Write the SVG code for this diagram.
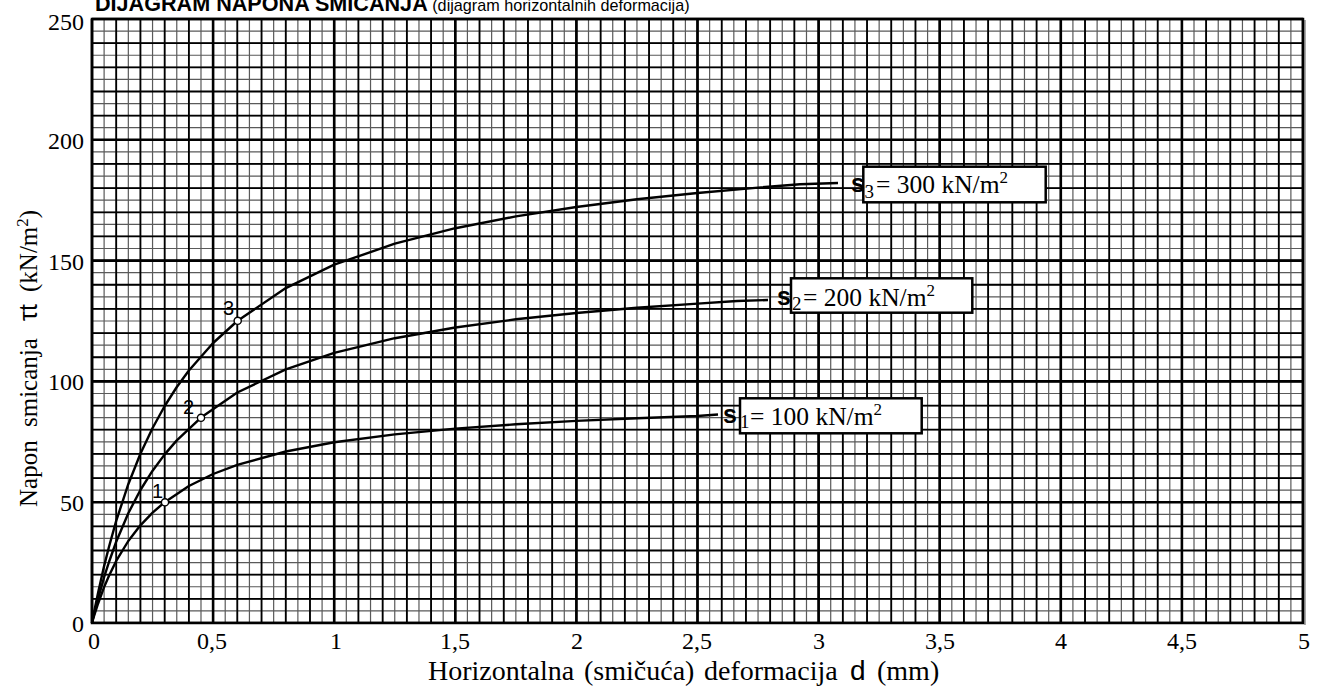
<svg xmlns="http://www.w3.org/2000/svg" width="1324" height="689" viewBox="0 0 1324 689">
<style>
.serif{font-family:"Liberation Serif","Times New Roman",serif;fill:#000}
.sans{font-family:"Liberation Sans",Arial,sans-serif;fill:#000}
.curve{fill:none;stroke:#000;stroke-width:2.4;stroke-linejoin:round;stroke-linecap:butt}
.pt{fill:#fff;stroke:#000;stroke-width:1.4}
.box{fill:#fff;stroke:#000;stroke-width:2.5}
</style>
<rect x="0" y="0" width="1324" height="689" fill="#fff"/>
<g id="grid">
<line x1="91.4" y1="321" x2="1303.6" y2="321" stroke="#5a5a5a" stroke-width="604" stroke-dasharray="1.2 10.91"/>
<line x1="697.5" y1="18.4" x2="697.5" y2="624" stroke="#5a5a5a" stroke-width="1211" stroke-dasharray="1.2 10.88"/>
<line x1="91.1" y1="321" x2="1303.6" y2="321" stroke="#000" stroke-width="604" stroke-dasharray="1.8 22.42"/>
<line x1="697.5" y1="18.1" x2="697.5" y2="624" stroke="#000" stroke-width="1211" stroke-dasharray="1.8 22.36"/>
<line x1="90.7" y1="321" x2="1303.6" y2="321" stroke="#000" stroke-width="604" stroke-dasharray="2.6 118.5"/>
<line x1="697.5" y1="17.7" x2="697.5" y2="624" stroke="#000" stroke-width="1211" stroke-dasharray="2.6 118.2"/>
<line x1="1305" y1="20" x2="1305" y2="625" stroke="#aaa" stroke-width="2"/>
<rect x="92" y="19" width="1211" height="604" fill="none" stroke="#000" stroke-width="2.5"/>
</g>
<g id="title">
<text x="95" y="11" font-family="Liberation Sans, Arial, sans-serif" font-size="21.6" fill="#000"><tspan font-weight="bold">DIJAGRAM NAPONA SMICANJA</tspan><tspan font-size="16.2"> (dijagram horizontalnih deformacija)</tspan></text>
</g>
<g id="y-ticks" font-family="Liberation Serif, Times New Roman, serif" font-size="24" fill="#000" text-anchor="end">
<text x="84" y="30">250</text>
<text x="84" y="149">200</text>
<text x="84" y="270">150</text>
<text x="84" y="390">100</text>
<text x="84" y="511">50</text>
<text x="84" y="632">0</text>
</g>
<g id="x-ticks" font-family="Liberation Serif, Times New Roman, serif" font-size="24" fill="#000" text-anchor="middle">
<text x="94" y="649">0</text>
<text x="212" y="649">0,5</text>
<text x="336" y="649">1</text>
<text x="455" y="649">1,5</text>
<text x="577" y="649">2</text>
<text x="697" y="649">2,5</text>
<text x="819" y="649">3</text>
<text x="940" y="649">3,5</text>
<text x="1061" y="649">4</text>
<text x="1182" y="649">4,5</text>
<text x="1304" y="649">5</text>
</g>
<g id="y-axis-title">
<text transform="rotate(-90)" x="-507" y="37" font-family="Liberation Serif, Times New Roman, serif" font-size="25" fill="#000"><tspan>Napon</tspan><tspan x="-427">smicanja</tspan><tspan x="-321" font-family="Liberation Sans, Arial, sans-serif">τt</tspan><tspan x="-292">(kN/m</tspan><tspan font-size="17" dy="-9">2</tspan><tspan dy="9">)</tspan></text>
</g>
<g id="x-axis-title" font-family="Liberation Serif, Times New Roman, serif" font-size="28" fill="#000">
<text x="428" y="680">Horizontalna</text>
<text x="584" y="680">(smičuća)</text>
<text x="704" y="680">deformacija</text>
<text x="850" y="680" font-family="Liberation Sans, Arial, sans-serif">d</text>
<text x="877" y="680">(mm)</text>
</g>
<g id="curves">
<polyline class="curve" points="92,623 92.5,620.4 93.2,616.6 94.4,610.5 98.1,592.8 104.1,566.1 109.0,546.8 116.2,520.9 128.3,484.2 140.4,453.7 152.6,428.0 164.7,406.0 176.8,387.0 188.9,370.5 213.1,343.0 237.3,321.0 285.8,288.1 334.2,264.7 394.8,243.7 455.3,228.2 515.9,216.4 576.4,207.0 637.0,199.2 697.5,193.0 758.1,187.6 800,184.3 838,183"/>
<polyline class="curve" points="92,623 92.5,620.9 93.2,617.8 94.4,612.8 98.1,598.6 104.1,577.2 109.0,562.0 116.2,541.7 128.3,513.2 140.4,490.0 152.6,470.7 164.7,454.4 176.8,440.4 201.0,417.6 237.3,392.5 285.8,369.3 334.2,352.9 394.8,338.2 455.3,327.5 515.9,319.3 576.4,313.0 637.0,307.7 697.5,303.6 737,301 768,300"/>
<polyline class="curve" points="92,623 92.5,621.3 93.2,618.8 94.4,614.8 98.1,603.5 104.1,587.1 109.0,575.7 116.2,560.9 128.3,541.0 140.4,525.3 152.6,512.6 164.7,502.2 188.9,486.0 213.1,474.0 237.3,464.8 285.8,451.5 334.2,442.3 394.8,434.4 455.3,428.6 515.9,424.3 576.4,420.9 637.0,418.2 697.5,416.0 718,414.5"/>
</g>
<g id="point-1"><circle class="pt" cx="165" cy="502.3" r="3.6"/><text x="152" y="498" class="sans" font-size="20">1</text></g>
<g id="point-2"><circle class="pt" cx="201" cy="417.8" r="3.6"/><text x="183" y="414" class="sans" font-size="20">2</text></g>
<g id="point-3"><circle class="pt" cx="237.7" cy="320.8" r="3.6"/><text x="223" y="315" class="sans" font-size="20">3</text></g>
<g id="label-s3">
<rect class="box" x="863.3" y="166.7" width="182.4" height="35.6"/>
<text x="851" y="192" class="sans" font-size="25" font-weight="bold">s</text>
<text x="864.5" y="198" class="serif" font-size="19">3</text>
<text x="876" y="193" class="serif" font-size="25.5">= 300 kN/m<tspan font-size="17" dy="-10">2</tspan></text>
</g>
<g id="label-s2">
<rect class="box" x="791" y="278.3" width="181.3" height="34.4"/>
<text x="777" y="305" class="sans" font-size="25" font-weight="bold">s</text>
<text x="792" y="310" class="serif" font-size="19">2</text>
<text x="803" y="306" class="serif" font-size="25.5">= 200 kN/m<tspan font-size="17" dy="-10">2</tspan></text>
</g>
<g id="label-s1">
<rect class="box" x="740" y="398.3" width="181.7" height="35"/>
<text x="723" y="423" class="sans" font-size="25" font-weight="bold">s</text>
<text x="740" y="428" class="serif" font-size="19">1</text>
<text x="750" y="425" class="serif" font-size="25.5">= 100 kN/m<tspan font-size="17" dy="-10">2</tspan></text>
</g>
</svg>
